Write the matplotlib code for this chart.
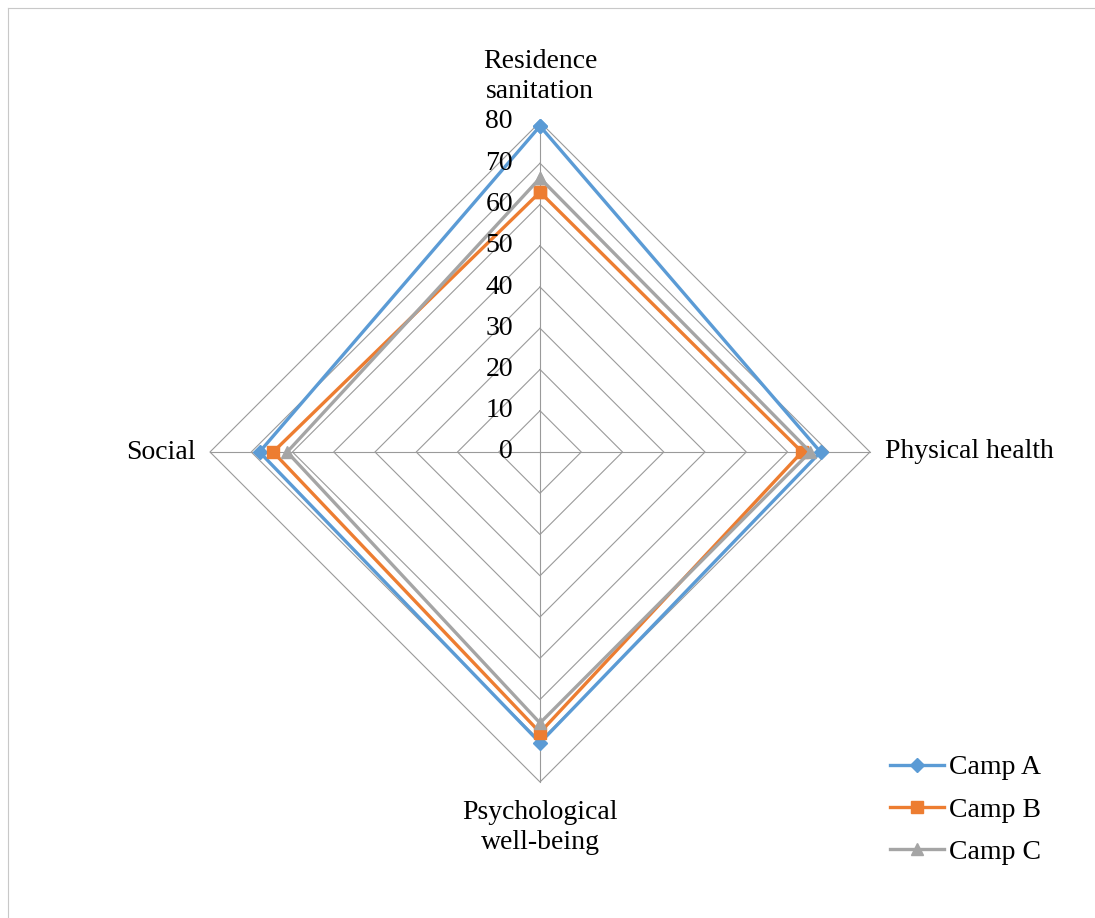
import numpy as np
import matplotlib
matplotlib.use("Agg")
import matplotlib.pyplot as plt
from matplotlib.transforms import offset_copy
from matplotlib.lines import Line2D

categories = ["Residence\nsanitation", "Physical health", "Psychological\nwell-being", "Social"]
series_names = ["Camp A", "Camp B", "Camp C"]
camp_a = [79, 68, 70.5, 68]
camp_b = [63, 63.5, 68, 64.7]
camp_c = [66.4, 65.5, 65.7, 61.3]
ticks = [0, 10, 20, 30, 40, 50, 60, 70, 80]

colors = ["#5B9BD5", "#ED7D31", "#A5A5A5"]
markers = ["D", "s", "^"]
msizes = [7, 8, 8]

plt.rcParams['font.family'] = ['Liberation Serif', 'DejaVu Serif']
FS = 20

W, H = 1095, 918
fig = plt.figure(figsize=(W / 100, H / 100), dpi=100)
cx, cy, R = 540, 452, 330
ax = fig.add_axes([(cx - R) / W, (H - cy - R) / H, 2 * R / W, 2 * R / H], projection='polar')
ax.set_theta_offset(np.pi / 2)
ax.set_theta_direction(-1)
ax.set_ylim(0, 80)
ax.grid(False)
ax.spines['polar'].set_visible(False)
ax.set_xticks([])
ax.set_yticks([])
ax.patch.set_alpha(0)

n = len(categories)
angles = np.arange(n) * 2 * np.pi / n
closed = np.append(angles, angles[0])

grid_color = "#9a9a9a"
for t in ticks[1:]:
    ax.plot(closed, [t] * (n + 1), color=grid_color, lw=0.8, zorder=1, clip_on=False)
for a in angles:
    ax.plot([a, a], [0, 80], color=grid_color, lw=0.8, zorder=1, clip_on=False)

tr = offset_copy(ax.transData, fig=fig, x=-27, y=0, units='dots')
for t in ticks:
    ax.text(0, t, str(t), transform=tr, ha='right', va='center', fontsize=FS, zorder=5)

for vals, col, mk, ms, name in zip([camp_a, camp_b, camp_c], colors, markers, msizes, series_names):
    v = np.append(vals, vals[0])
    ax.plot(closed, v, color=col, lw=2.4, marker=mk, markersize=ms, zorder=3, clip_on=False, label=name)

# category labels
offs = [(0, 18), (15, 0), (0, -18), (-14, 0)]
has = ['center', 'left', 'center', 'right']
vas = ['bottom', 'center', 'top', 'center']
for a, lab, (dx, dy), ha, va in zip(angles, categories, offs, has, vas):
    trl = offset_copy(ax.transData, fig=fig, x=dx, y=dy, units='dots')
    ax.text(a, 80, lab, transform=trl, ha=ha, va=va, fontsize=FS, linespacing=1.25)

handles = [Line2D([], [], color=c, lw=2.4, marker=m, markersize=s) for c, m, s in zip(colors, markers, msizes)]
fig.legend(handles, series_names, loc='upper left', bbox_to_anchor=(890 / W, 1 - 755 / H),
           frameon=False, fontsize=FS, handlelength=1.95, handletextpad=0.18,
           labelspacing=0.6, borderpad=0, borderaxespad=0)

# chart border
fig.add_artist(Line2D([8 / W, 8 / W], [0, 1 - 8 / H], transform=fig.transFigure, color="#c8c8c8", lw=0.8))
fig.add_artist(Line2D([8 / W, 1], [1 - 8 / H, 1 - 8 / H], transform=fig.transFigure, color="#c8c8c8", lw=0.8))

fig.savefig("out.png", dpi=100)
